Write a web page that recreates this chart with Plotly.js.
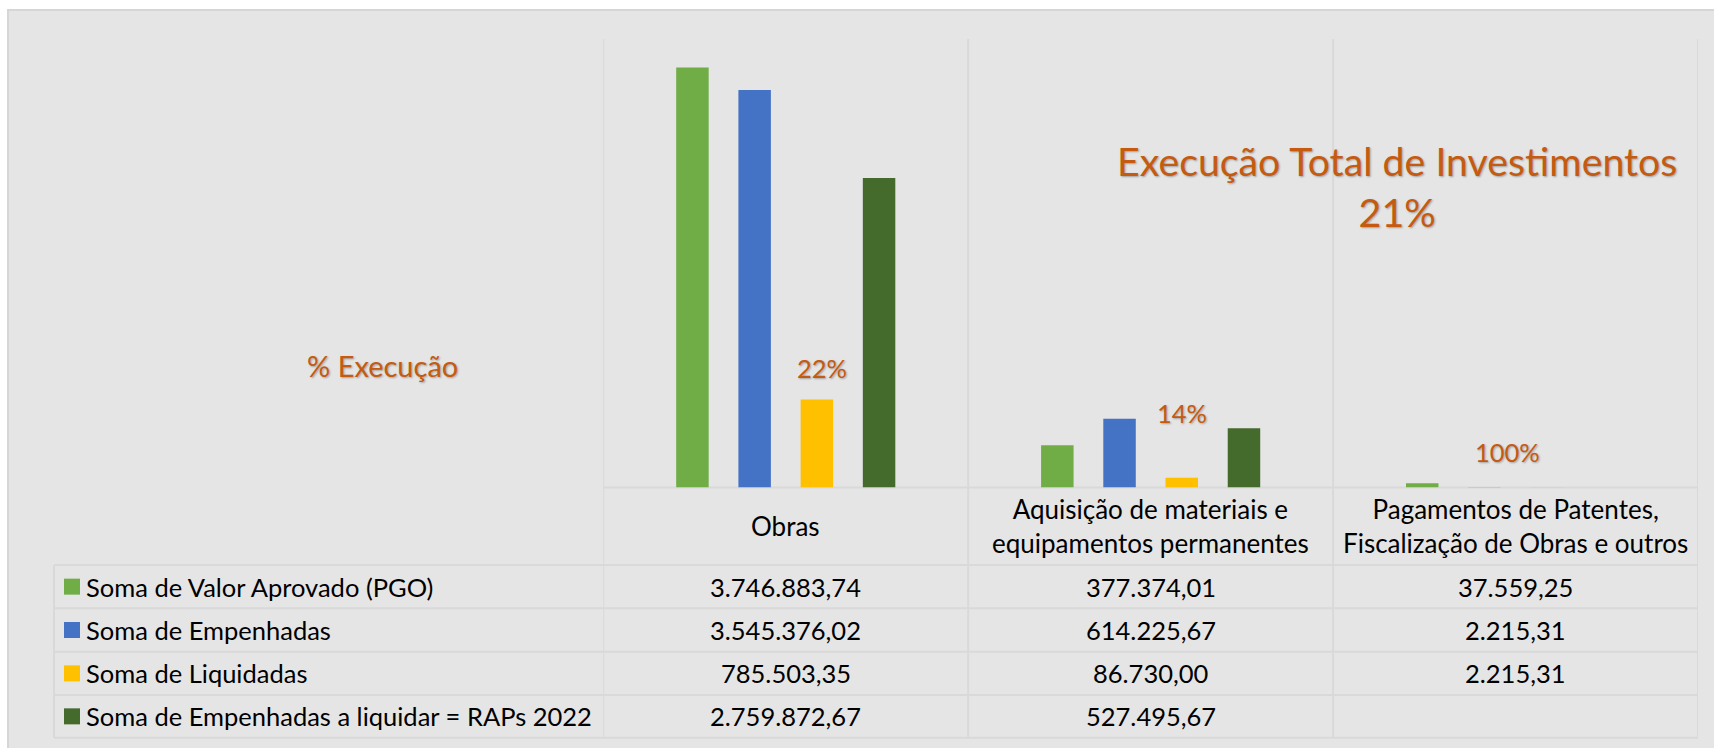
<!DOCTYPE html>
<html>
<head>
<meta charset="utf-8">
<script src="https://cdn.plot.ly/plotly-3.0.1.min.js"></script>
<style>
  html, body { margin: 0; padding: 0; background: #ffffff; }
  #chart { width: 1714px; height: 748px; }
</style>
</head>
<body>
<div id="chart"></div>
<script>
// ---- Data ----
const categories = ['Obras', 'Aquisição de materiais e<br>equipamentos permanentes', 'Pagamentos de Patentes,<br>Fiscalização de Obras e outros'];
const seriesNames = ['Soma de Valor Aprovado (PGO)', 'Soma de Empenhadas', 'Soma de Liquidadas', 'Soma de Empenhadas a liquidar = RAPs 2022'];
const valorAprovado = [3746883.74, 377374.01, 37559.25];
const empenhadas = [3545376.02, 614225.67, 2215.31];
const liquidadas = [785503.35, 86730.00, 2215.31];
const aLiquidar = [2759872.67, 527495.67, null];
const tableText = [
  ['3.746.883,74', '377.374,01', '37.559,25'],
  ['3.545.376,02', '614.225,67', '2.215,31'],
  ['785.503,35', '86.730,00', '2.215,31'],
  ['2.759.872,67', '527.495,67', '']
];
const pctLabels = ['22%', '14%', '100%'];
const totalLabel = 'Execução Total de Investimentos<br>21%';
const pctSeriesLabel = '% Execução';

// ---- Style / layout ----
const W = 1714, H = 748;
const colors = ['#70AD47', '#4472C4', '#FFC000', '#446A2C'];
const orange = '#C55A11';
const gridC = '#D9D9D9';
const FONT = 'Lato, "Open Sans", sans-serif';
const shadow = '1px 1px 2px rgba(0,0,0,0.30)';
const px = v => v / W;
const py = v => 1 - v / H;

const plotLeft = 603.3, plotRight = 1698, plotTop = 39, baseY = 487.5;
const rowLines = [565, 608.3, 651.7, 695, 737.7];
const tableLeft = 54;

const seriesValues = [valorAprovado, empenhadas, liquidadas, aLiquidar];
const xIdx = categories.map((c, i) => i);

const traces = seriesValues.map((vals, s) => ({
  type: 'bar',
  name: seriesNames[s],
  x: xIdx,
  y: vals,
  marker: { color: colors[s], line: { width: 0 } },
  hoverinfo: 'skip'
}));

const shapes = [];
const annotations = [];

// background panel
shapes.push({ type: 'rect', xref: 'paper', yref: 'paper', x0: px(8), x1: px(1716), y0: py(750), y1: py(10),
  fillcolor: '#E5E5E5', line: { color: '#D6D6D6', width: 2 }, layer: 'below' });

// vertical separators (category boundaries)
for (let i = 0; i <= categories.length; i++) {
  shapes.push({ type: 'line', xref: 'x', yref: 'paper', x0: i - 0.5, x1: i - 0.5, y0: py(rowLines[rowLines.length - 1]), y1: py(plotTop),
    line: { color: gridC, width: 2 }, layer: 'below' });
}
// table left edge
shapes.push({ type: 'line', xref: 'paper', yref: 'paper', x0: px(tableLeft), x1: px(tableLeft), y0: py(rowLines[0]), y1: py(rowLines[rowLines.length - 1]),
  line: { color: gridC, width: 2 }, layer: 'below' });
// baseline
shapes.push({ type: 'line', xref: 'paper', yref: 'paper', x0: px(plotLeft), x1: px(plotRight), y0: py(baseY), y1: py(baseY),
  line: { color: gridC, width: 2 }, layer: 'below' });
// table row lines
rowLines.forEach(yv => {
  shapes.push({ type: 'line', xref: 'paper', yref: 'paper', x0: px(tableLeft), x1: px(plotRight), y0: py(yv), y1: py(yv),
    line: { color: gridC, width: 2 }, layer: 'below' });
});

// header category labels
categories.forEach((c, i) => {
  annotations.push({ xref: 'x', yref: 'paper', x: i, y: py(526), text: c, showarrow: false,
    xanchor: 'center', yanchor: 'middle', align: 'center',
    font: { family: FONT, size: 26, color: '#000000' } });
});

// table rows
seriesNames.forEach((name, r) => {
  const yc = (rowLines[r] + rowLines[r + 1]) / 2;
  // legend key
  shapes.push({ type: 'rect', xref: 'paper', yref: 'paper', x0: px(64), x1: px(80), y0: py(yc + 8), y1: py(yc - 8),
    fillcolor: colors[r], line: { width: 0 } });
  annotations.push({ xref: 'paper', yref: 'paper', x: px(84), y: py(yc), text: name, showarrow: false,
    xanchor: 'left', yanchor: 'middle', font: { family: FONT, size: 25.5, color: '#000000' } });
  tableText[r].forEach((t, i) => {
    if (!t) return;
    annotations.push({ xref: 'x', yref: 'paper', x: i, y: py(yc), text: t, showarrow: false,
      xanchor: 'center', yanchor: 'middle', font: { family: FONT, size: 25.5, color: '#000000' } });
  });
});

// percentage labels
const pctPos = [[0.098, 368], [0.086, 413], [-0.022, 452]];
pctLabels.forEach((t, i) => {
  annotations.push({ xref: 'x', yref: 'paper', x: i + pctPos[i][0], y: py(pctPos[i][1]), text: t, showarrow: false,
    xanchor: 'center', yanchor: 'middle', font: { family: FONT, size: 25.5, color: orange, shadow: shadow } });
});
annotations.push({ xref: 'paper', yref: 'paper', x: px(382), y: py(366), text: pctSeriesLabel, showarrow: false,
  xanchor: 'center', yanchor: 'middle', font: { family: FONT, size: 29, color: orange, shadow: shadow } });
annotations.push({ xref: 'paper', yref: 'paper', x: px(1397), y: py(186), text: totalLabel, showarrow: false,
  xanchor: 'center', yanchor: 'middle', align: 'center',
  font: { family: FONT, size: 39.3, color: orange, shadow: shadow } });

const layout = {
  width: W, height: H,
  margin: { l: 0, r: 0, t: 0, b: 0, pad: 0 },
  paper_bgcolor: '#ffffff',
  plot_bgcolor: 'rgba(0,0,0,0)',
  showlegend: false,
  barmode: 'group',
  bargap: 0.318,
  bargroupgap: 0.478,
  xaxis: { domain: [px(plotLeft), px(plotRight)], type: 'linear', range: [-0.5, 2.5],
    showgrid: false, zeroline: false, showline: false, showticklabels: false, ticks: '' },
  yaxis: { domain: [py(baseY), py(plotTop)], range: [0, 4000000], visible: false, showgrid: false, zeroline: false },
  shapes: shapes,
  annotations: annotations,
  font: { family: FONT }
};

Plotly.newPlot('chart', traces, layout, { staticPlot: true, displayModeBar: false });
</script>
</body>
</html>
